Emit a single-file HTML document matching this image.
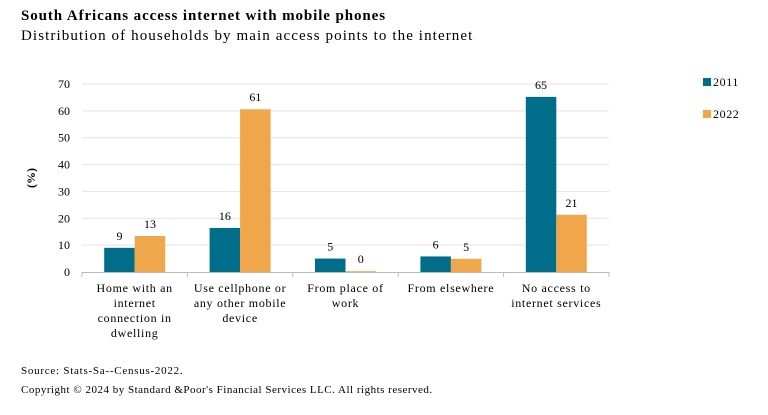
<!DOCTYPE html>
<html><head><meta charset="utf-8"><style>
body{margin:0;background:#fff;font-family:"Liberation Serif",serif;}
#wrap{position:relative;width:768px;height:415px;overflow:hidden;}
.t{position:absolute;white-space:nowrap;color:#000;}
</style></head><body>
<div id="wrap">
<div class="t" style="left:21px;top:8px;font-size:15px;font-weight:bold;letter-spacing:0.9px">South Africans access internet with mobile phones</div>
<div class="t" style="left:21px;top:28px;font-size:15px;letter-spacing:1.1px">Distribution of households by main access points to the internet</div>
<svg id="svg" width="768" height="415" style="position:absolute;left:0;top:0"></svg>
<div class="t" style="left:21px;top:365px;font-size:11px;letter-spacing:0.75px">Source: Stats-Sa--Census-2022.</div>
<div class="t" style="left:21px;top:384px;font-size:11px;letter-spacing:0.5px">Copyright © 2024 by Standard &amp;Poor's Financial Services LLC. All rights reserved.</div>
</div>
<script>
const categories=[["Home with an","internet","connection in","dwelling"],["Use cellphone or","any other mobile","device"],["From place of","work"],["From elsewhere"],["No access to","internet services"]];
const series2011=[9,16.4,5,5.8,65.2];
const series2022=[13.4,60.6,0.3,4.9,21.3];
const labels2011=["9","16","5","6","65"];
const labels2022=["13","61","0","5","21"];
const yTicks=[0,10,20,30,40,50,60,70];
const NS="http://www.w3.org/2000/svg";
const svg=document.getElementById('svg');
const x0=82,x1=609,y0=272,yTop=84,yMax=70;
const y=v=>y0-(y0-yTop)*v/yMax;
const cw=(x1-x0)/categories.length;
const bw=30.5;
function el(t,a,p){const e=document.createElementNS(NS,t);for(const k in a)e.setAttribute(k,a[k]);(p||svg).appendChild(e);return e;}
yTicks.forEach(v=>{
 if(v>0){const g=el('line',{x1:x0,x2:x1,y1:y(v),y2:y(v),stroke:'#e3e3e3','stroke-width':1});
 
 }
 const t=el('text',{x:70,y:y(v)+4,'text-anchor':'end','font-size':12,'font-family':'Liberation Serif'});t.textContent=v;
 
 
});
const ax=el('line',{x1:x0,x2:x1,y1:y0+0.5,y2:y0+0.5,stroke:'#bbb'});


for(let i=0;i<=categories.length;i++){el('line',{x1:x0+i*cw,x2:x0+i*cw,y1:y0,y2:y0+5,stroke:'#bbb'});}
const yt=el('text',{transform:'translate(35,178) rotate(-90)','text-anchor':'middle','font-size':12,'font-weight':'bold','font-family':'Liberation Serif'});yt.textContent='(%)';


categories.forEach((c,i)=>{
 const cx=x0+cw*(i+0.5);
 [[series2011,labels2011,'#006e8a',-1,'2011'],[series2022,labels2022,'#f0a64a',0,'2022']].forEach(([s,l,col,off,yr])=>{
  const bx=cx+off*bw;
  const r=el('rect',{x:bx,y:y(s[i]),width:bw,height:y0-y(s[i]),fill:col});
  
  
  const t=el('text',{x:bx+bw/2,y:y(s[i])-8,'text-anchor':'middle','font-size':12,'font-family':'Liberation Serif'});t.textContent=l[i];
  
  
 });
 c.forEach((ln,j)=>{const t=el('text',{x:cx,y:292+j*15,'text-anchor':'middle','font-size':12,'font-family':'Liberation Serif','letter-spacing':'0.7'});t.textContent=ln;
 
 });
});
[['2011','#006e8a',82],['2022','#f0a64a',114]].forEach(([n,c,yy])=>{
 const r=el('rect',{x:703,y:yy-4,width:8,height:8,fill:c});
 
 
 const t=el('text',{x:713,y:yy+4,'font-size':12,'font-family':'Liberation Serif','letter-spacing':'0.6'});t.textContent=n;
 
 
});
</script>
</body></html>
